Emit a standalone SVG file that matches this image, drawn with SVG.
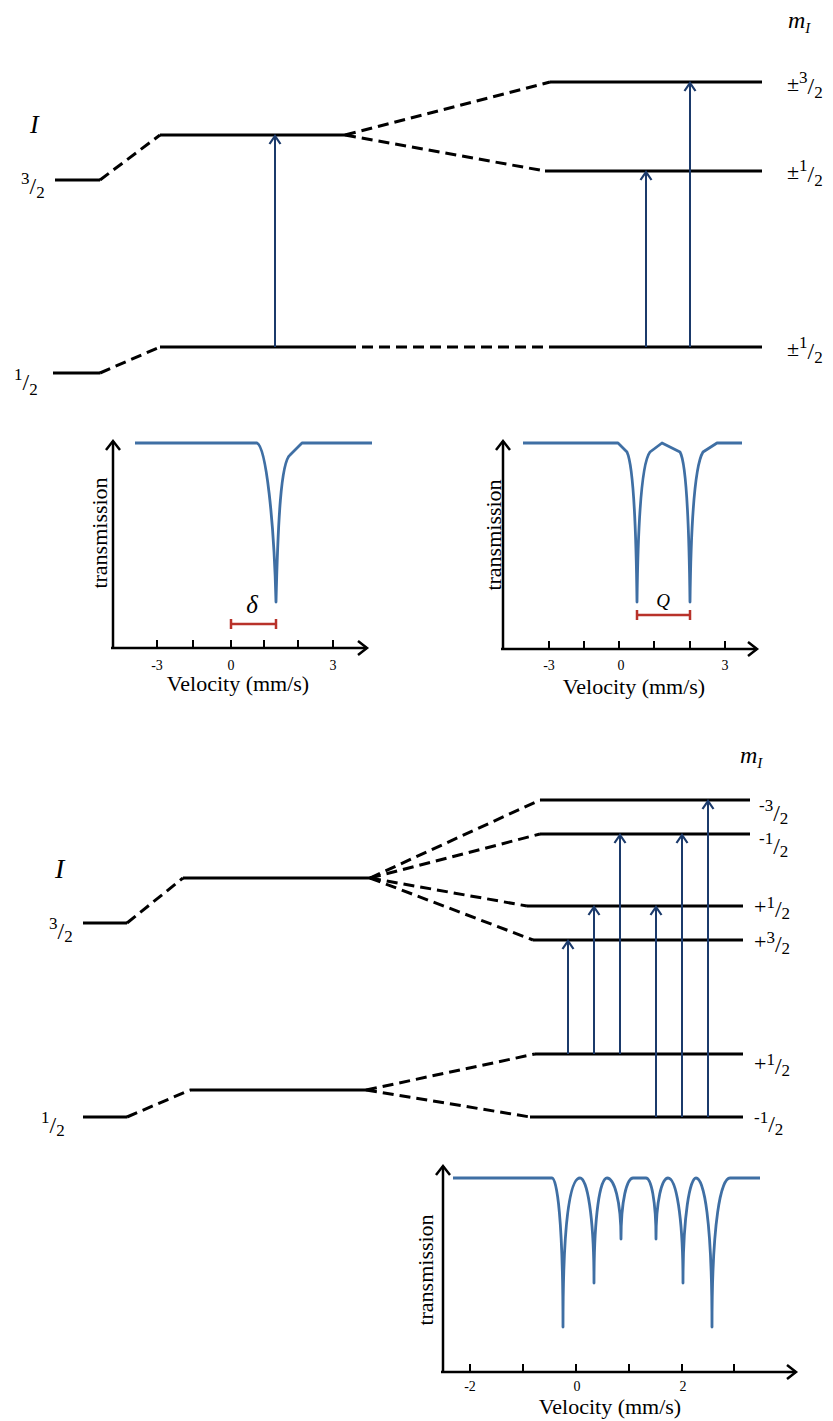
<svg xmlns="http://www.w3.org/2000/svg" width="833" height="1421" viewBox="0 0 833 1421" font-family="'Liberation Serif', 'Times New Roman', serif">
<defs>
<marker id="tr" markerUnits="userSpaceOnUse" markerWidth="20" markerHeight="20" viewBox="-10 -10 20 20" refX="0" refY="0" orient="auto" overflow="visible"><path d="M-8,-5.5 L0,0 L-8,5.5" fill="none" stroke="#1b3a6b" stroke-width="2.2"/></marker>
<marker id="ax" markerUnits="userSpaceOnUse" markerWidth="24" markerHeight="24" viewBox="-12 -12 24 24" refX="0" refY="0" orient="auto" overflow="visible"><path d="M-9,-7 L0,0 L-9,7" fill="none" stroke="#000" stroke-width="2.5"/></marker>
</defs>
<style>
.lvl{stroke:#000;stroke-width:3;fill:none}
.dash{stroke:#000;stroke-width:3;fill:none;stroke-dasharray:11 6}
.tr{stroke:#1b3a6b;stroke-width:2;fill:none;marker-end:url(#tr)}
.axis{stroke:#000;stroke-width:2.5;fill:none;marker-end:url(#ax)}
.tick{stroke:#000;stroke-width:2}
.curve{stroke:#3f6fa4;stroke-width:2.8;fill:none;stroke-linejoin:round}
.red{stroke:#b8322a;stroke-width:2.5;fill:none}
text{font-family:"Liberation Serif","Times New Roman",serif;fill:#000}
.it{font-style:italic}
.lab{font-size:22px}
.tl{font-size:14px;text-anchor:middle}
.sup{font-size:17px}
.sl{font-size:24px}
.pm{font-size:22px}
</style>

<!-- ===== Top diagram ===== -->
<g id="top-labels">
<text class="it" x="30" y="133" font-size="26">I</text>
<text class="it" x="788" y="28" font-size="24">m<tspan font-size="15" y="33">I</tspan></text>
</g>
<g id="top-I32">
<line class="lvl" x1="55" y1="180" x2="100" y2="180"/>
<text x="21"><tspan class="sup" y="184">3</tspan><tspan class="sl" y="194">/</tspan><tspan class="sup" y="198">2</tspan></text>
</g>
<g id="top-I32-shift"><line class="lvl" x1="160" y1="135" x2="345" y2="135"/></g>
<g id="top-I12">
<line class="lvl" x1="53" y1="373" x2="100" y2="373"/>
<text x="14"><tspan class="sup" y="380">1</tspan><tspan class="sl" y="390">/</tspan><tspan class="sup" y="395">2</tspan></text>
</g>
<g id="top-I12-shift"><line class="lvl" x1="160" y1="347" x2="345" y2="347"/></g>
<g id="top-m32">
<line class="lvl" x1="550" y1="82" x2="762" y2="82"/>
<text x="787"><tspan class="pm" y="91">±</tspan><tspan class="sup" y="83">3</tspan><tspan class="sl" y="94">/</tspan><tspan class="sup" y="98">2</tspan></text>
</g>
<g id="top-m12u">
<line class="lvl" x1="545" y1="171" x2="762" y2="171"/>
<text x="787"><tspan class="pm" y="179">±</tspan><tspan class="sup" y="171">1</tspan><tspan class="sl" y="182">/</tspan><tspan class="sup" y="186">2</tspan></text>
</g>
<g id="top-m12g">
<line class="lvl" x1="552" y1="347" x2="762" y2="347"/>
<text x="787"><tspan class="pm" y="356">±</tspan><tspan class="sup" y="348">1</tspan><tspan class="sl" y="359">/</tspan><tspan class="sup" y="363">2</tspan></text>
</g>

<g id="top-connectors">
<line class="dash" x1="100" y1="180" x2="160" y2="135"/>
<line class="dash" x1="100" y1="373" x2="160" y2="347"/>
<line class="dash" x1="345" y1="135" x2="550" y2="82"/>
<line class="dash" x1="345" y1="135" x2="545" y2="171"/>
<line class="dash" x1="345" y1="347" x2="552" y2="347"/>
<line class="tr" x1="275" y1="347" x2="275" y2="136"/>
<line class="tr" x1="646" y1="347" x2="646" y2="172"/>
<line class="tr" x1="690" y1="347" x2="690" y2="83"/>
</g>

<!-- ===== Spectrum 1 ===== -->
<g id="spectrum1">
<line class="axis" x1="113" y1="649" x2="113" y2="441"/>
<line class="axis" x1="111" y1="648" x2="367" y2="648"/>
<g class="tick">
<line x1="157" y1="640" x2="157" y2="648"/><line x1="193" y1="640" x2="193" y2="648"/><line x1="231" y1="640" x2="231" y2="648"/><line x1="264" y1="640" x2="264" y2="648"/><line x1="298" y1="640" x2="298" y2="648"/><line x1="333" y1="640" x2="333" y2="648"/>
</g>
<text class="tl" x="157" y="670">-3</text><text class="tl" x="231" y="670">0</text><text class="tl" x="333" y="670">3</text>
<text class="lab" x="238" y="691" text-anchor="middle">Velocity (mm/s)</text>
<text class="lab" transform="translate(107,533) rotate(-90)" text-anchor="middle">transmission</text>
<path class="curve" d="M135,443 L257,443 C266,447 274,520 276,602 C278,520 281,462 290,455 L302,443 L372,443"/>
<text class="it" x="252" y="613" font-size="25" text-anchor="middle">δ</text>
<path class="red" d="M231,624 L276,624 M231,619 L231,629 M276,619 L276,629"/>
</g>

<!-- ===== Spectrum 2 ===== -->
<g id="spectrum2">
<line class="axis" x1="503" y1="650" x2="503" y2="441"/>
<line class="axis" x1="501" y1="649" x2="757" y2="649"/>
<g class="tick">
<line x1="549" y1="641" x2="549" y2="649"/><line x1="584" y1="641" x2="584" y2="649"/><line x1="619" y1="641" x2="619" y2="649"/><line x1="654" y1="641" x2="654" y2="649"/><line x1="690" y1="641" x2="690" y2="649"/><line x1="725" y1="641" x2="725" y2="649"/>
</g>
<text class="tl" x="549" y="670">-3</text><text class="tl" x="621" y="670">0</text><text class="tl" x="725" y="670">3</text>
<text class="lab" x="634" y="694" text-anchor="middle">Velocity (mm/s)</text>
<text class="lab" transform="translate(501,535) rotate(-90)" text-anchor="middle">transmission</text>
<path class="curve" d="M523,443 L618,443 L627,452 C633,465 636,520 637,602 C638,520 642,462 650,452 L662,443 L680,452 C686,462 689,520 690,602 C691,520 695,465 703,452 L717,443 L742,443"/>
<text class="it" x="663" y="607" font-size="19" text-anchor="middle">Q</text>
<path class="red" d="M637,615 L690,615 M637,610 L637,620 M690,610 L690,620"/>
</g>

<!-- ===== Bottom diagram ===== -->
<g id="bottom-labels">
<text class="it" x="55" y="878" font-size="28">I</text>
<text class="it" x="740" y="763" font-size="24">m<tspan font-size="15" y="768">I</tspan></text>
</g>
<g id="bot-I32">
<line class="lvl" x1="83" y1="923" x2="127" y2="923"/>
<text x="49"><tspan class="sup" y="929">3</tspan><tspan class="sl" y="939">/</tspan><tspan class="sup" y="942">2</tspan></text>
</g>
<g id="bot-I32-shift"><line class="lvl" x1="183" y1="878" x2="370" y2="878"/></g>
<g id="bot-I12">
<line class="lvl" x1="83" y1="1117" x2="127" y2="1117"/>
<text x="41"><tspan class="sup" y="1123">1</tspan><tspan class="sl" y="1133">/</tspan><tspan class="sup" y="1136">2</tspan></text>
</g>
<g id="bot-I12-shift"><line class="lvl" x1="190" y1="1090" x2="366" y2="1090"/></g>
<g id="bot-e-m32">
<line class="lvl" x1="540" y1="800" x2="750" y2="800"/>
<text x="759"><tspan class="sup" y="811">-3</tspan><tspan class="sl" y="821">/</tspan><tspan class="sup" y="824">2</tspan></text>
</g>
<g id="bot-e-m12">
<line class="lvl" x1="540" y1="834" x2="750" y2="834"/>
<text x="759"><tspan class="sup" y="844">-1</tspan><tspan class="sl" y="854">/</tspan><tspan class="sup" y="857">2</tspan></text>
</g>
<g id="bot-e-p12">
<line class="lvl" x1="527" y1="906" x2="743" y2="906"/>
<text x="754"><tspan class="pm" y="914">+</tspan><tspan class="sup" y="908">1</tspan><tspan class="sl" y="917">/</tspan><tspan class="sup" y="919">2</tspan></text>
</g>
<g id="bot-e-p32">
<line class="lvl" x1="533" y1="940" x2="743" y2="940"/>
<text x="754"><tspan class="pm" y="949">+</tspan><tspan class="sup" y="943">3</tspan><tspan class="sl" y="952">/</tspan><tspan class="sup" y="954">2</tspan></text>
</g>
<g id="bot-g-p12">
<line class="lvl" x1="535" y1="1054" x2="743" y2="1054"/>
<text x="754"><tspan class="pm" y="1071">+</tspan><tspan class="sup" y="1065">1</tspan><tspan class="sl" y="1074">/</tspan><tspan class="sup" y="1076">2</tspan></text>
</g>
<g id="bot-g-m12">
<line class="lvl" x1="530" y1="1117" x2="743" y2="1117"/>
<text x="754"><tspan class="sup" y="1123">-1</tspan><tspan class="sl" y="1132">/</tspan><tspan class="sup" y="1135">2</tspan></text>
</g>

<g id="bottom-connectors">
<line class="dash" x1="127" y1="923" x2="183" y2="878"/>
<line class="dash" x1="127" y1="1117" x2="190" y2="1090"/>
<line class="dash" x1="370" y1="878" x2="540" y2="800"/>
<line class="dash" x1="370" y1="878" x2="540" y2="834"/>
<line class="dash" x1="370" y1="878" x2="527" y2="906"/>
<line class="dash" x1="370" y1="878" x2="533" y2="940"/>
<line class="dash" x1="366" y1="1090" x2="535" y2="1054"/>
<line class="dash" x1="366" y1="1090" x2="530" y2="1117"/>
<line class="tr" x1="568" y1="1054" x2="568" y2="941"/>
<line class="tr" x1="594" y1="1054" x2="594" y2="907"/>
<line class="tr" x1="620" y1="1054" x2="620" y2="835"/>
<line class="tr" x1="656" y1="1117" x2="656" y2="907"/>
<line class="tr" x1="682" y1="1117" x2="682" y2="835"/>
<line class="tr" x1="708" y1="1117" x2="708" y2="801"/>
</g>

<!-- ===== Spectrum 3 ===== -->
<g id="spectrum3">
<line class="axis" x1="443" y1="1373" x2="443" y2="1166"/>
<line class="axis" x1="441" y1="1372" x2="796" y2="1372"/>
<g class="tick">
<line x1="470" y1="1364" x2="470" y2="1372"/><line x1="523" y1="1364" x2="523" y2="1372"/><line x1="576" y1="1364" x2="576" y2="1372"/><line x1="629" y1="1364" x2="629" y2="1372"/><line x1="682" y1="1364" x2="682" y2="1372"/><line x1="734" y1="1364" x2="734" y2="1372"/>
</g>
<text class="tl" x="470" y="1391">-2</text><text class="tl" x="577" y="1391">0</text><text class="tl" x="683" y="1391">2</text>
<text class="lab" x="610" y="1414" text-anchor="middle">Velocity (mm/s)</text>
<text class="lab" transform="translate(433,1270) rotate(-90)" text-anchor="middle">transmission</text>
<path class="curve" d="M453,1178 L552,1178
C557,1178 563,1220 563,1327 C563,1220 570,1178 580,1178
C587,1178 594,1215 594,1283 C594,1215 600,1178 607,1178
C614,1178 621,1200 621,1239 C621,1200 627,1178 633,1178
L646,1178
C651,1178 656,1200 656,1239 C656,1200 662,1178 668,1178
C676,1178 683,1215 683,1283 C683,1215 690,1178 696,1178
C704,1178 712,1220 712,1327 C712,1220 721,1178 730,1178
L760,1178"/>
</g>
</svg>
